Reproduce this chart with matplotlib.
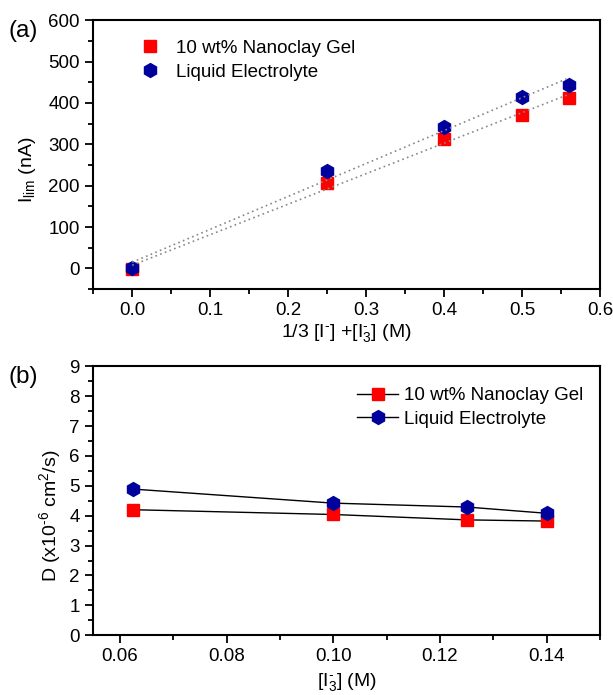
"""
Limiting current and diffusion coefficient: nanoclay gel vs liquid electrolyte.
"""

import matplotlib
matplotlib.use("Agg")
import matplotlib.pyplot as plt
import numpy as np

plt.rcParams["font.family"] = ["Liberation Sans", "DejaVu Sans"]
plt.rcParams["mathtext.fontset"] = "custom"
plt.rcParams["mathtext.rm"] = "Liberation Sans"
plt.rcParams["mathtext.it"] = "Liberation Sans"
plt.rcParams["mathtext.default"] = "regular"

# panel (a): limiting current vs concentration
conc = [0.0, 0.25, 0.40, 0.50, 0.56]
ilim_gel = [-2, 206, 312, 371, 413]
ilim_liquid = [0, 236, 342, 414, 443]

# panel (b): diffusion coefficient vs triiodide concentration
i3_conc = [0.0625, 0.10, 0.125, 0.14]
d_gel = [4.20, 4.04, 3.86, 3.82]
d_liquid = [4.89, 4.42, 4.29, 4.08]

LABEL_GEL = "10 wt% Nanoclay Gel"
LABEL_LIQ = "Liquid Electrolyte"
RED = "#ff0000"
BLUE = "#00009c"
HY = "\u2010"  # small hyphen for the ion charge


def style_axes(ax):
    for side in ["left", "bottom", "top", "right"]:
        ax.spines[side].set_linewidth(1.5)
    ax.tick_params(which="both", direction="out", top=False, right=False, width=1.3)
    ax.tick_params(which="major", length=6, labelsize=13.5)
    ax.tick_params(which="minor", length=3.5)


fig = plt.figure(figsize=(6.13, 6.95), dpi=100)
ax1 = fig.add_axes([0.152, 0.584, 0.827, 0.387])
ax2 = fig.add_axes([0.152, 0.086, 0.827, 0.387])

# (a)
ax1.plot(conc, ilim_gel, "s", color=RED, ms=8.5, mec=RED, label=LABEL_GEL, zorder=3)
ax1.plot(conc, ilim_liquid, "h", color=BLUE, ms=10, mec=BLUE, label=LABEL_LIQ, zorder=3)
xfit = np.array([conc[0], conc[-1]])
for ys in [ilim_gel, ilim_liquid]:
    k, b = np.polyfit(conc, ys, 1)
    ax1.plot(xfit, k * xfit + b, ls=(0, (1, 2)), color="#888888", lw=1.2, zorder=4)
ax1.set_xlim(-0.05, 0.6)
ax1.set_ylim(-50, 600)
ax1.set_xticks(np.arange(0, 0.61, 0.1))
ax1.set_xticks(np.arange(-0.05, 0.6, 0.05), minor=True)
ax1.set_yticks(np.arange(0, 601, 100))
ax1.set_yticks(np.arange(-50, 600, 50), minor=True)
ax1.xaxis.set_major_formatter(matplotlib.ticker.FormatStrFormatter("%.1f"))
ax1.set_xlabel(f"1/3 [I$^{{{HY}}}$] +[I$_{{3}}^{{{HY}}}$] (M)", fontsize=14, labelpad=2)
ax1.set_ylabel("I$_{lim}$ (nA)", fontsize=14)
ax1.yaxis.set_label_coords(-0.108, 0.445)
style_axes(ax1)
ax1.legend(loc="upper left", bbox_to_anchor=(0.06, 0.99), frameon=False, fontsize=13.5,
           handlelength=1.0, handletextpad=0.9, labelspacing=0.35)
fig.text(0.014, 1 - 20 / 695, "(a)", fontsize=17.5, va="top")

# (b)
ax2.plot(i3_conc, d_gel, "-s", color="black", lw=1, mfc=RED, mec=RED, ms=8.5, label=LABEL_GEL)
ax2.plot(i3_conc, d_liquid, "-h", color="black", lw=1, mfc=BLUE, mec=BLUE, ms=10, label=LABEL_LIQ)
ax2.set_xlim(0.055, 0.15)
ax2.set_ylim(0, 9)
ax2.set_xticks([0.06, 0.08, 0.10, 0.12, 0.14])
ax2.set_xticks(np.arange(0.07, 0.151, 0.02), minor=True)
ax2.set_yticks(np.arange(0, 10, 1))
ax2.set_yticks(np.arange(0.5, 9, 1), minor=True)
ax2.xaxis.set_major_formatter(matplotlib.ticker.FormatStrFormatter("%.2f"))
ax2.set_xlabel(f"[I$_{{3}}^{{{HY}}}$] (M)", fontsize=14, labelpad=4)
ax2.set_ylabel(f"D (x10$^{{{HY}6}}$ cm$^{{2}}$/s)", fontsize=14)
ax2.yaxis.set_label_coords(-0.06, 0.445)
style_axes(ax2)
ax2.legend(loc="upper right", bbox_to_anchor=(1.0, 0.985), frameon=False, fontsize=13.5,
           handlelength=2.2, handletextpad=0.3, labelspacing=0.35)
fig.text(0.014, 1 - 366 / 695, "(b)", fontsize=17.5, va="top")

fig.savefig("out.png", dpi=100)
